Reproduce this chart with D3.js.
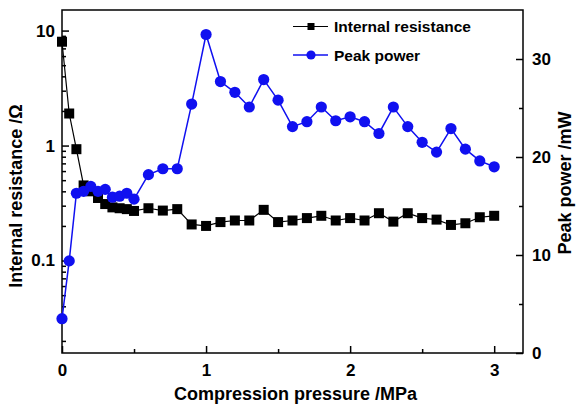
<!DOCTYPE html>
<html>
<head>
<meta charset="utf-8">
<script src="https://cdn.jsdelivr.net/npm/d3@7/dist/d3.min.js"></script>
<style>
  html, body { margin: 0; padding: 0; background: #fff; }
  svg { display: block; font-family: "Liberation Sans", Arial, Helvetica, sans-serif; font-weight: bold; }
</style>
</head>
<body>
<svg id="chart" width="576" height="405"></svg>
<script>
// Compression pressure (MPa)
const pressure = [0, 0.05, 0.1, 0.15, 0.2, 0.25, 0.3, 0.35, 0.4, 0.45, 0.5,
  0.6, 0.7, 0.8, 0.9, 1.0, 1.1, 1.2, 1.3, 1.4, 1.5, 1.6, 1.7, 1.8, 1.9, 2.0,
  2.1, 2.2, 2.3, 2.4, 2.5, 2.6, 2.7, 2.8, 2.9, 3.0];
// Internal resistance (Ω), log scale
const resistance = [8.0, 1.9, 0.93, 0.45, 0.40, 0.35, 0.31, 0.29, 0.285, 0.28, 0.27,
  0.285, 0.272, 0.28, 0.206, 0.20, 0.216, 0.223, 0.223, 0.276, 0.216, 0.223, 0.234, 0.245,
  0.223, 0.234, 0.223, 0.258, 0.218, 0.258, 0.234, 0.227, 0.204, 0.211, 0.238, 0.245];
// Peak power (mW)
const power = [3.5, 9.4, 16.3, 16.5, 17.0, 16.5, 16.7, 15.9, 16.0, 16.3, 15.7,
  18.2, 18.8, 18.8, 25.4, 32.5, 27.7, 26.6, 25.1, 27.9, 25.8, 23.1, 23.6, 25.1,
  23.7, 24.1, 23.6, 22.4, 25.1, 23.1, 21.5, 20.5, 22.9, 20.8, 19.6, 19.0];

const xTicks = [0, 1, 2, 3];
const xMinorTicks = [0.5, 1.5, 2.5];
const leftTicks = [10, 1, 0.1];
const leftTickLabels = ["10", "1", "0.1"];
const rightTicks = [0, 10, 20, 30];
const rightMinorTicks = [5, 15, 25];
const seriesNames = ["Internal resistance", "Peak power"];

const margin = { left: 62, right: 53, top: 10, bottom: 52 };
const W = 576, H = 405;
const x0 = margin.left, x1 = W - margin.right, y0 = H - margin.bottom, y1 = margin.top;

const svg = d3.select("#chart");

const x = d3.scaleLinear().domain([0, 3.2]).range([x0, x1]);
const yL = d3.scaleLog().domain([0.0157, 15.1]).range([y0, y1]);
const yR = d3.scaleLinear().domain([0, 35]).range([y0, y1]);

const blue = "#1010f0";
const tickFont = "17px";

// frame
svg.append("rect")
  .attr("x", x0).attr("y", y1)
  .attr("width", x1 - x0).attr("height", y0 - y1)
  .attr("fill", "none").attr("stroke", "#000").attr("stroke-width", 1.5);

function styleAxis(g) {
  g.select(".domain").remove();
  g.selectAll(".tick line").attr("stroke", "#000").attr("stroke-width", 1.5);
  g.selectAll(".tick text").attr("font-size", tickFont).attr("font-weight", "bold").attr("fill", "#000")
    .attr("font-family", "'Liberation Sans', Arial, sans-serif");
}

// bottom axis
svg.append("g").attr("transform", `translate(0,${y0})`)
  .call(d3.axisBottom(x).tickValues(xTicks).tickFormat(d3.format("d")).tickSize(-7).tickPadding(11))
  .call(styleAxis);
svg.append("g").attr("transform", `translate(0,${y0})`)
  .call(d3.axisBottom(x).tickValues(xMinorTicks).tickFormat("").tickSize(-4))
  .call(styleAxis);

// left log axis
const leftMinor = [];
[0.01, 0.1, 1, 10].forEach(dec => {
  for (let k = 2; k <= 9; k++) {
    const v = dec * k;
    if (v >= yL.domain()[0] && v <= yL.domain()[1]) leftMinor.push(v);
  }
});
svg.append("g").attr("transform", `translate(${x0},0)`)
  .call(d3.axisLeft(yL).tickValues(leftTicks)
    .tickFormat((d, i) => leftTickLabels[i]).tickSize(-7).tickPadding(7))
  .call(styleAxis);
svg.append("g").attr("transform", `translate(${x0},0)`)
  .call(d3.axisLeft(yL).tickValues(leftMinor).tickFormat("").tickSize(-4))
  .call(styleAxis);

// right axis
svg.append("g").attr("transform", `translate(${x1},0)`)
  .call(d3.axisRight(yR).tickValues(rightTicks).tickFormat(d3.format("d")).tickSize(-7).tickPadding(9))
  .call(styleAxis);
svg.append("g").attr("transform", `translate(${x1},0)`)
  .call(d3.axisRight(yR).tickValues(rightMinorTicks).tickFormat("").tickSize(-4))
  .call(styleAxis);

// axis titles
svg.append("text")
  .attr("x", (x0 + x1) / 2 + 3).attr("y", 400)
  .attr("text-anchor", "middle").attr("font-size", "18px")
  .text("Compression pressure /MPa");
svg.append("text")
  .attr("transform", `translate(22,${196}) rotate(-90)`)
  .attr("text-anchor", "middle").attr("font-size", "18px")
  .text("Internal resistance /\u03A9");
svg.append("text")
  .attr("transform", `translate(571,${183}) rotate(-90)`)
  .attr("text-anchor", "middle").attr("font-size", "18px")
  .text("Peak power /mW");

const resData = pressure.map((p, i) => ({ p, v: resistance[i] }));
const powData = pressure.map((p, i) => ({ p, v: power[i] }));

// internal resistance series
svg.append("path").datum(resData)
  .attr("fill", "none").attr("stroke", "#000").attr("stroke-width", 1.2)
  .attr("d", d3.line().x(d => x(d.p)).y(d => yL(d.v)));
const sq = 10;
svg.append("g").selectAll("rect").data(resData).join("rect")
  .attr("x", d => x(d.p) - sq / 2).attr("y", d => yL(d.v) - sq / 2)
  .attr("width", sq).attr("height", sq).attr("fill", "#000");

// peak power series
svg.append("path").datum(powData)
  .attr("fill", "none").attr("stroke", blue).attr("stroke-width", 1.5)
  .attr("d", d3.line().x(d => x(d.p)).y(d => yR(d.v)));
svg.append("g").selectAll("circle").data(powData).join("circle")
  .attr("cx", d => x(d.p)).attr("cy", d => yR(d.v))
  .attr("r", 5.6).attr("fill", blue);

// legend
const lg = svg.append("g");
const lx0 = 293, lx1 = 328, lxm = 311;
lg.append("line").attr("x1", lx0).attr("x2", lx1).attr("y1", 26.5).attr("y2", 26.5)
  .attr("stroke", "#000").attr("stroke-width", 1.2);
lg.append("rect").attr("x", lxm - 3.5).attr("y", 23).attr("width", 7).attr("height", 7).attr("fill", "#000");
lg.append("text").attr("x", 334).attr("y", 32).attr("font-size", "15.5px").text(seriesNames[0]);
lg.append("line").attr("x1", lx0).attr("x2", lx1).attr("y1", 55).attr("y2", 55)
  .attr("stroke", blue).attr("stroke-width", 1.5);
lg.append("circle").attr("cx", lxm).attr("cy", 55).attr("r", 4.6).attr("fill", blue);
lg.append("text").attr("x", 334).attr("y", 60.5).attr("font-size", "15.5px").text(seriesNames[1]);
</script>
</body>
</html>
